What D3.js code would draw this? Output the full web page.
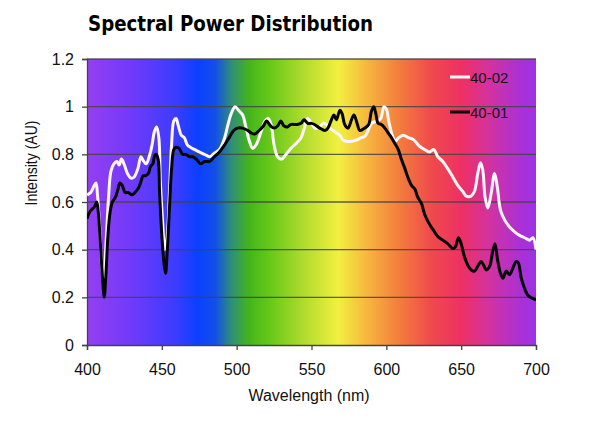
<!DOCTYPE html>
<html><head><meta charset="utf-8">
<script src="https://cdn.jsdelivr.net/npm/d3@7"></script>
<style>
html,body{margin:0;padding:0;background:#fff;}
svg{display:block;}
</style></head>
<body>
<script>
// ---- data ----
const title = "Spectral Power Distribution";
const xLabel = "Wavelength (nm)";
const yLabel = "Intensity (AU)";
const xTicks = [400, 450, 500, 550, 600, 650, 700];
const yTicks = [0, 0.2, 0.4, 0.6, 0.8, 1, 1.2];
const seriesNames = ["40-02", "40-01"];

// 40-02 (white) : [wavelength nm, intensity]
const series4002 = [[400,0.63],[402.5,0.64],[404.5,0.665],[406,0.68],[407,0.63],[408.5,0.49],[410,0.32],[411,0.28],[413,0.46],[414.5,0.63],[416,0.73],[418,0.76],[420,0.77],[421.5,0.755],[423,0.78],[425,0.755],[427,0.72],[429.5,0.70],[431.5,0.705],[434,0.74],[436,0.79],[437.5,0.775],[439.5,0.76],[442,0.80],[443.5,0.84],[445,0.895],[446.5,0.915],[448,0.87],[449,0.685],[450.5,0.52],[452,0.40],[453.5,0.45],[455,0.63],[456.5,0.84],[458,0.94],[459.5,0.95],[461,0.92],[463,0.88],[465,0.87],[467,0.84],[469,0.83],[472,0.82],[475,0.81],[478.5,0.80],[482,0.79],[485,0.805],[488.5,0.82],[492,0.87],[494,0.92],[496.3,0.97],[499,1.00],[501.2,0.985],[504,0.965],[506.3,0.91],[508.5,0.855],[510.7,0.825],[513,0.84],[516.3,0.895],[519,0.94],[521,0.95],[523,0.925],[525,0.84],[527.3,0.79],[530,0.78],[533,0.80],[536.2,0.825],[539.6,0.845],[543,0.87],[545.2,0.91],[547.4,0.95],[550,0.93],[552.2,0.91],[555.5,0.915],[557.7,0.93],[560,0.925],[562.2,0.91],[564.4,0.90],[566.6,0.89],[569,0.88],[571,0.86],[573.3,0.855],[576.7,0.855],[580,0.86],[583.3,0.87],[585.6,0.875],[587.8,0.90],[590,0.93],[593.4,0.94],[596.2,0.95],[598.4,1.00],[600,0.99],[601.6,0.94],[604,0.88],[606,0.855],[608.3,0.87],[611.3,0.88],[614.6,0.87],[618,0.862],[622,0.835],[625.5,0.82],[628.8,0.81],[631.7,0.82],[634.4,0.79],[637.7,0.77],[641,0.74],[644.4,0.705],[647.7,0.67],[651,0.645],[653.3,0.625],[656.6,0.625],[658.9,0.645],[661.1,0.72],[662.9,0.765],[664.4,0.735],[666,0.62],[667.8,0.575],[670,0.635],[672.3,0.72],[674.1,0.665],[676.3,0.565],[679,0.525],[682.3,0.495],[685.7,0.475],[689,0.46],[692.4,0.45],[695.7,0.44],[697.9,0.45],[700,0.40]];

// 40-01 (black)
const series4001 = [[400,0.53],[402,0.56],[405,0.58],[406.5,0.60],[407.5,0.56],[409,0.42],[410.5,0.27],[411.5,0.20],[412.6,0.29],[414,0.46],[415.5,0.56],[417,0.60],[419,0.62],[420.5,0.65],[422,0.68],[423.5,0.67],[425.5,0.64],[427.5,0.64],[430,0.63],[432,0.64],[434.5,0.66],[436,0.685],[437.5,0.71],[439,0.71],[441,0.72],[442.5,0.75],[444,0.76],[445,0.79],[446,0.80],[447.5,0.78],[448.5,0.64],[450,0.46],[451.5,0.34],[452.5,0.30],[453.5,0.38],[455,0.56],[456.5,0.74],[458,0.82],[459.5,0.83],[461.5,0.825],[464,0.80],[466,0.80],[468.5,0.79],[470.5,0.79],[473,0.78],[476,0.76],[478.5,0.77],[482,0.77],[485,0.79],[488.5,0.81],[492,0.84],[495,0.87],[498,0.90],[500.5,0.91],[504,0.91],[507.5,0.90],[509.5,0.89],[512,0.885],[515,0.90],[518,0.92],[520,0.94],[522.5,0.92],[525,0.91],[527.5,0.92],[529.5,0.94],[531.5,0.92],[534,0.915],[536,0.925],[540.5,0.925],[543,0.93],[545,0.945],[547.5,0.93],[550,0.93],[552,0.925],[555.5,0.91],[559,0.90],[561,0.91],[563.3,0.945],[565,0.965],[566.6,0.945],[569,0.985],[570.5,0.97],[572.2,0.925],[574.4,0.91],[576.7,0.945],[578.4,0.965],[580.7,0.925],[582.2,0.90],[585.6,0.91],[588.2,0.925],[590,0.98],[591.6,1.00],[593,0.97],[594.5,0.93],[596.7,0.925],[599,0.91],[601.2,0.89],[603.4,0.87],[605.7,0.845],[608,0.82],[610,0.78],[612.4,0.74],[614.6,0.70],[616.8,0.67],[619,0.655],[621,0.62],[623.4,0.595],[625.5,0.55],[627.7,0.52],[630,0.495],[632.2,0.475],[634.4,0.455],[637.7,0.44],[641,0.425],[644.4,0.405],[646,0.41],[648.2,0.45],[650,0.425],[652.2,0.37],[654.4,0.335],[656.7,0.315],[659,0.31],[661,0.33],[663.3,0.35],[665,0.335],[666.7,0.315],[669,0.33],[671,0.39],[672.6,0.425],[674.4,0.355],[676.3,0.30],[678,0.28],[680,0.31],[682.3,0.295],[684.4,0.32],[686.7,0.35],[688.2,0.345],[690,0.285],[692.2,0.24],[694.4,0.21],[697.8,0.195],[700,0.19]];

// spectrum background stops: [wavelength, colour]
const spectrumNm =     [400,      430,      460,      474,      486,      496,      508,      522,      545,      568,      590,      610,      630,      650,      670,      690,      700];
const spectrumColors = ["#963ef2","#703afa","#3a3cff","#0a40ff","#1450e6","#2e8c7c","#44b41c","#66c818","#b0dc2e","#f2f040","#f6ae3e","#f27a3e","#f04a4c","#ee3064","#d032a4","#aa30d6","#9c32e8"];

// ---- layout ----
const W = 589, H = 422;
const m = {left: 87, top: 59, right: 53, bottom: 77};
const iw = W - m.left - m.right, ih = H - m.top - m.bottom;

const svg = d3.select("body").append("svg").attr("width", W).attr("height", H);
const x = d3.scaleLinear().domain([400, 700]).range([0, iw]);
const y = d3.scaleLinear().domain([0, 1.2]).range([ih, 0]);

const defs = svg.append("defs");
const grad = defs.append("linearGradient").attr("id", "spec")
  .attr("gradientUnits", "userSpaceOnUse")
  .attr("x1", x(400)).attr("x2", x(700)).attr("y1", 0).attr("y2", 0);
spectrumNm.forEach((nm, i) => grad.append("stop")
  .attr("offset", (nm - 400) / 300).attr("stop-color", spectrumColors[i]));
defs.append("clipPath").attr("id", "clip").append("rect")
  .attr("x", 0).attr("y", -2).attr("width", iw).attr("height", ih + 2);

const g = svg.append("g").attr("transform", `translate(${m.left},${m.top})`);
g.append("rect").attr("x", 0).attr("y", 0).attr("width", iw).attr("height", ih).attr("fill", "url(#spec)");

// gridlines
g.append("g").selectAll("line").data(yTicks.filter(d => d > 0)).join("line")
  .attr("x1", 0).attr("x2", iw).attr("y1", d => y(d)).attr("y2", d => y(d))
  .attr("stroke", "#444").attr("stroke-width", 1.3).attr("opacity", 0.85);

// axes
const font = "'Liberation Sans', Arial, sans-serif";
const yAxis = g.append("g").call(d3.axisLeft(y).tickValues(yTicks).tickSize(5).tickPadding(8)
  .tickFormat(d => d === 0 ? "0" : d3.format("~g")(d)));
const xAxis = g.append("g").attr("transform", `translate(0,${ih})`)
  .call(d3.axisBottom(x).tickValues(xTicks).tickSize(5).tickPadding(14));
[yAxis, xAxis].forEach(a => {
  a.select(".domain").attr("stroke", "#444").attr("stroke-width", 1.3);
  a.selectAll(".tick line").attr("stroke", "#444").attr("stroke-width", 1.3);
  a.selectAll("text").attr("font-family", font).attr("font-size", 16).attr("fill", "#111");
});

// lines
const line = d3.line().x(d => x(d[0])).y(d => y(d[1])).curve(d3.curveCatmullRom.alpha(0.5));
const lines = g.append("g").attr("clip-path", "url(#clip)");
lines.append("path").datum(series4002).attr("d", line).attr("fill", "none")
  .attr("stroke", "#fff6f8").attr("stroke-width", 3).attr("stroke-linejoin", "round");
lines.append("path").datum(series4001).attr("d", line).attr("fill", "none")
  .attr("stroke", "#050505").attr("stroke-width", 3).attr("stroke-linejoin", "round");

// legend
const legend = svg.append("g");
const legendColors = ["#fff6f8", "#050505"];
const legendY = [77, 112];
seriesNames.forEach((n, i) => {
  legend.append("line").attr("x1", 450).attr("x2", 470).attr("y1", legendY[i]).attr("y2", legendY[i])
    .attr("stroke", legendColors[i]).attr("stroke-width", 3);
  legend.append("text").attr("x", 470).attr("y", legendY[i] + 6).text(n)
    .attr("font-family", font).attr("font-size", 15).attr("fill", "#111");
});

// title and axis labels
svg.append("text").attr("x", 88).attr("y", 31).text(title)
  .attr("font-family", "'Liberation Sans Narrow', 'DejaVu Sans Condensed', sans-serif")
  .attr("font-weight", "bold").attr("font-size", 22)
  .attr("textLength", 285).attr("lengthAdjust", "spacingAndGlyphs").attr("fill", "#000");
svg.append("text").attr("x", 309).attr("y", 401).attr("text-anchor", "middle").text(xLabel)
  .attr("font-family", font).attr("font-size", 16).attr("fill", "#111");
svg.append("text").attr("transform", "translate(37,163) rotate(-90)").attr("text-anchor", "middle").text(yLabel)
  .attr("font-family", font).attr("font-size", 16).attr("fill", "#111")
  .attr("textLength", 85).attr("lengthAdjust", "spacingAndGlyphs");
</script>
</body></html>
